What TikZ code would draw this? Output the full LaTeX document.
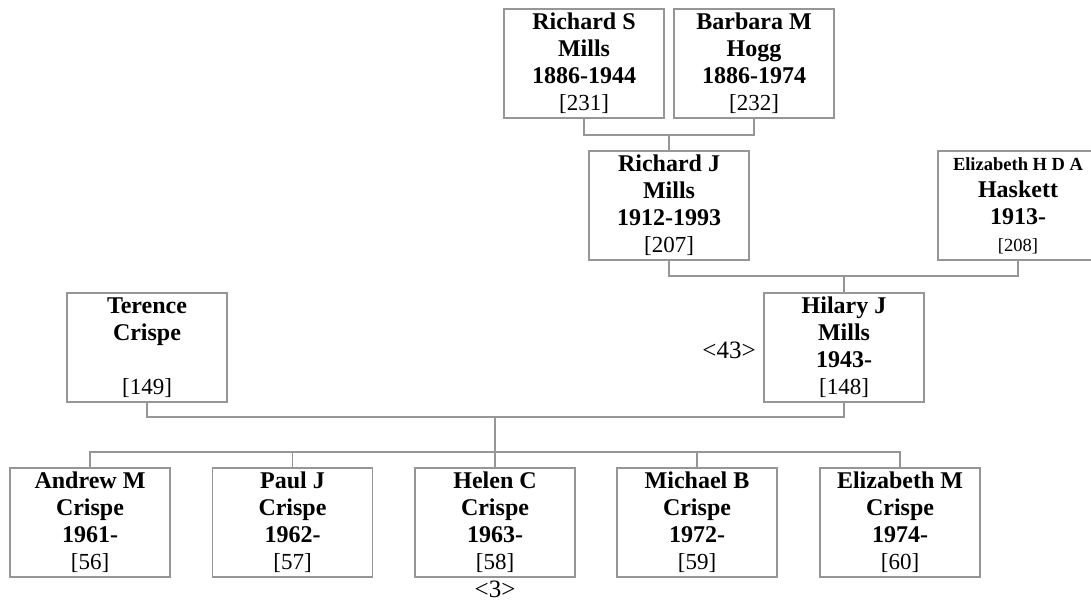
\documentclass[tikz,border=0pt]{standalone}
\usepackage{fontspec}
\setmainfont{Liberation Serif}
\definecolor{boxgray}{RGB}{150,150,150}
\definecolor{linegray}{RGB}{150,150,150}
\newcommand{\nmb}[1]{{\fontsize{24}{27}\selectfont\textbf{#1}}}
\newcommand{\yrb}[1]{{\fontsize{24}{27}\selectfont\textbf{#1}}\hspace*{9pt}}
\newcommand{\smallsz}{\fontsize{18.5}{22}\selectfont}
\begin{document}
\begin{tikzpicture}[x=1pt,y=-1pt,
  pbox/.style={draw=boxgray, line width=1.3pt, minimum width=160pt, minimum height=109pt,
    inner sep=0pt, align=center, font=\fontsize{23}{27}\selectfont},
  link/.style={draw=linegray, line width=1.3pt},
  lbl/.style={inner sep=0pt, font=\fontsize{25}{27}\selectfont}]
\useasboundingbox (0,0) rectangle (1091,602);
\clip (0,0) rectangle (1091,602);
% grandparents
\node[pbox] (rs) at (584,63.5) {\nmb{Richard S}\\\nmb{Mills}\\\nmb{1886-1944}\\{}[231]};
\node[pbox] (bh) at (754,63.5) {\nmb{Barbara M}\\\nmb{Hogg}\\\nmb{1886-1974}\\{}[232]};
% parents of Hilary
\node[pbox] (rj) at (669,205.5) {\nmb{Richard J}\\\nmb{Mills}\\\nmb{1912-1993}\\{}[207]};
\node[pbox] (eh) at (1018,205.5) {{\smallsz\textbf{Elizabeth H D A}}\\\nmb{Haskett}\\\yrb{1913-}\\{\smallsz[208]}};
% couple
\node[pbox] (tc) at (147,347.5) {\nmb{Terence}\\\nmb{Crispe}\\{}\strut\\{}[149]};
\node[pbox] (hj) at (844,347.5) {\nmb{Hilary J}\\\nmb{Mills}\\\yrb{1943-}\\{}[148]};
% children
\node[pbox] (c1) at (90,522.5) {\nmb{Andrew M}\\\nmb{Crispe}\\\yrb{1961-}\\{}[56]};
\node[pbox] (c2) at (292.5,522.5) {\nmb{Paul J}\\\nmb{Crispe}\\\yrb{1962-}\\{}[57]};
\node[pbox] (c3) at (495,522.5) {\nmb{Helen C}\\\nmb{Crispe}\\\yrb{1963-}\\{}[58]};
\node[pbox] (c4) at (697,522.5) {\nmb{Michael B}\\\nmb{Crispe}\\\yrb{1972-}\\{}[59]};
\node[pbox] (c5) at (900,522.5) {\nmb{Elizabeth M}\\\nmb{Crispe}\\\yrb{1974-}\\{}[60]};
% labels
\node[lbl] (l43) at (729,350) {<43>};
\node[lbl, anchor=base] (l3) at (495,597) {<3>};
% junctions
\coordinate (j1) at (669,135);
\coordinate (j2) at (844,276);
\coordinate (j3) at (495,417);
\coordinate (j4) at (495,452);
% connectors
\draw[link] (rs.south) |- (j1) -| (bh.south);
\draw[link] (j1) -- (rj.north);
\draw[link] (rj.south) |- (j2) -| (eh.south);
\draw[link] (j2) -- (hj.north);
\draw[link] (tc.south) |- (j3) -| (hj.south);
\draw[link] (j3) -- (c3.north);
\draw[link] (c1.north) |- (j4) -| (c5.north);
\draw[link] (c2.north) -- (c2.north |- j4);
\draw[link] (c4.north) -- (c4.north |- j4);
\end{tikzpicture}
\end{document}
